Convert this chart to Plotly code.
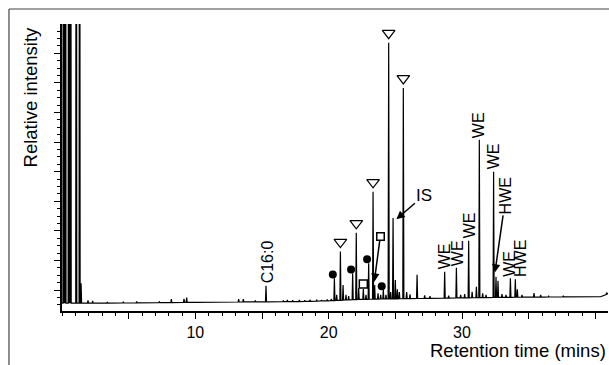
import numpy as np
import plotly.graph_objects as go

# ---------------- data (retention time in min, relative intensity) ----------------
peak_time = [0.11, 0.18, 0.26, 0.50, 0.58, 0.65, 1.07, 1.32, 1.43,
             1.95, 2.3, 3.4, 4.6, 5.6, 7.3, 8.2, 9.15, 9.35, 10.6, 11.6, 12.4,
             13.25, 13.6, 14.5, 15.3, 16.6, 16.9, 17.3, 17.8, 18.2, 18.6, 19.1,
             19.45, 19.9, 20.2,
             20.43, 20.6, 20.88, 21.08, 21.3, 21.5, 21.8, 22.07, 22.25, 22.6, 22.8,
             23.0, 23.33, 23.45, 23.7, 23.9, 24.1, 24.3, 24.5, 24.65, 24.83, 25.0,
             25.15, 25.3, 25.6, 25.85, 26.1, 26.63, 27.2, 27.6, 28.7, 29.0, 29.58,
             29.9, 30.2, 30.5, 30.76, 31.08, 31.3, 31.55, 31.8, 32.37, 32.55, 32.7,
             33.0, 33.3, 33.63, 34.0, 34.15, 34.5, 35.4, 35.9, 36.5, 37.6, 38.5,
             39.7, 40.85]
peak_height = [300, 300, 300, 300, 300, 300, 300, 300, 7.1,
               1.0, 0.8, 0.4, 0.5, 0.6, 0.5, 1.5, 1.6, 2.0, 0.4, 0.5, 0.5,
               1.5, 1.5, 1.0, 6.2, 1.0, 1.2, 1.1, 1.2, 1.0, 1.2, 1.2,
               1.0, 1.3, 1.5,
               8.9, 3.0, 18.5, 6.5, 3.0, 2.5, 10.7, 25.2, 5.4, 5.1, 3.0,
               14.3, 39.9, 6.5, 3.5, 3.0, 4.7, 3.0, 93.3, 4.0, 30.5, 8.3,
               5.0, 4.0, 77.1, 4.0, 3.2, 10.2, 2.8, 2.5, 11.3, 2.7, 12.7,
               3.0, 3.3, 22.4, 4.1, 5.9, 58.5, 3.5, 3.0, 47.1, 9.5, 8.0,
               3.3, 3.0, 8.9, 8.6, 5.0, 3.0, 3.6, 3.0, 2.5, 2.7, 2.3,
               2.4, 3.8]
base_time = [0, 3, 10, 18, 20.3, 22.0, 24.0, 26.9, 28.4, 33.2, 36.2, 40.4, 41]
base_level = [0, 0, 0.3, 0.6, 0.9, 1.3, 1.5, 1.7, 1.8, 2.1, 2.2, 2.3, 3.5]

triangle_peaks = [20.88, 22.07, 23.33, 24.5, 25.6]
circle_peaks = [20.43, 21.8, 23.0, 24.1]
square_peak = 22.6
square_arrow_peak = 23.45
is_peak = 24.83
hwe_arrow_peak = 32.55
label_names = ["C16:0", "WE", "WE", "WE", "WE", "WE", "WE", "HWE"]
label_peaks = [15.3, 28.7, 29.58, 30.5, 31.3, 32.37, 33.63, 34.0]
label_xshift = [1, 0, 1, 1, 0, 0, -1, 5]

x_tick_vals = [5, 10, 15, 20, 25, 30, 35, 40]
x_tick_text = ["", "10", "", "20", "", "30", "", ""]

# ---------------- build chromatogram trace ----------------
H = dict(zip(peak_time, peak_height))
W = 0.04
pts = list(zip(base_time, base_level))
for t, h in zip(peak_time, peak_height):
    pts.append((t - W, float(np.interp(t - W, base_time, base_level))))
    pts.append((t, h))
    pts.append((t + W, float(np.interp(t + W, base_time, base_level))))
pts.sort(key=lambda p: p[0])
xs = [p[0] for p in pts]
ys = [p[1] for p in pts]

FONT = "Liberation Sans, Arial, sans-serif"
fig = go.Figure()
fig.add_trace(go.Scatter(x=xs, y=ys, mode="lines", line=dict(color="black", width=1.2),
                         hoverinfo="skip", showlegend=False))
fig.add_trace(go.Scatter(x=triangle_peaks, y=[H[t] + 3.4 for t in triangle_peaks], mode="markers",
                         marker=dict(symbol="triangle-down-open", size=11, color="black",
                                     line=dict(width=1.2, color="black")),
                         showlegend=False, hoverinfo="skip"))
fig.add_trace(go.Scatter(x=[t - 0.12 for t in circle_peaks], y=[H[t] + 1.4 for t in circle_peaks],
                         mode="markers", marker=dict(symbol="circle", size=8, color="black"),
                         showlegend=False, hoverinfo="skip"))
fig.add_trace(go.Scatter(x=[square_peak], y=[H[square_peak] + 1.8], mode="markers",
                         marker=dict(symbol="square-open", size=8, color="black",
                                     line=dict(width=1.5, color="black")),
                         showlegend=False, hoverinfo="skip"))

annotations = []
for name, t, dx in zip(label_names, label_peaks, label_xshift):
    annotations.append(dict(x=t, y=H[t], text=name, textangle=-90, showarrow=False,
                            xanchor="center", yanchor="bottom", xshift=dx,
                            font=dict(family=FONT, size=16, color="black")))
# square with arrow
annotations.append(dict(x=square_arrow_peak - 0.03, y=H[square_arrow_peak] + 1.2, text="",
                        width=6, height=6, bordercolor="black", borderwidth=1.5, borderpad=0,
                        showarrow=True, ax=6, ay=-45, arrowhead=2, arrowsize=1.1,
                        arrowwidth=1.5, arrowcolor="black"))
# IS
annotations.append(dict(x=is_peak + 0.25, y=H[is_peak] - 0.4, text="IS",
                        font=dict(family=FONT, size=17, color="black"),
                        showarrow=True, ax=28, ay=-24, arrowhead=2, arrowsize=1.1,
                        arrowwidth=1.5, arrowcolor="black"))
# HWE with arrow
annotations.append(dict(x=hwe_arrow_peak - 0.08, y=H[hwe_arrow_peak] + 1.5, text="HWE", textangle=-90,
                        font=dict(family=FONT, size=16, color="black"),
                        showarrow=True, ax=11, ay=-77, arrowhead=2, arrowsize=1.1,
                        arrowwidth=1.5, arrowcolor="black"))
# axis titles
annotations.append(dict(xref="paper", yref="paper", x=-0.0586, y=0.744, text="Relative intensity",
                        textangle=-90, showarrow=False, xanchor="center", yanchor="middle",
                        font=dict(family=FONT, size=18.5, color="black")))
annotations.append(dict(xref="paper", yref="paper", x=1.0, y=-0.136, text="Retention time (mins)",
                        showarrow=False, xanchor="right", yanchor="middle",
                        font=dict(family=FONT, size=18.5, color="black")))

shapes = [
    dict(type="line", xref="paper", yref="paper", x0=-0.0971, x1=1.01, y0=1.0523, y1=1.0523,
         line=dict(color="#444", width=1.2)),
    dict(type="line", xref="paper", yref="paper", x0=-0.0971, x1=-0.0971, y0=1.0523, y1=-0.2,
         line=dict(color="#444", width=1.2)),
]

fig.update_layout(
    width=609, height=365, margin=dict(l=62, r=1, t=24, b=54),
    paper_bgcolor="white", plot_bgcolor="white",
    annotations=annotations, shapes=shapes, showlegend=False,
    xaxis=dict(range=[0, 40.95], showline=True, linecolor="black", linewidth=1.5,
               showgrid=False, zeroline=False, ticks="outside", ticklen=6, tickwidth=1,
               tickcolor="black", tickmode="array", tickvals=x_tick_vals, ticktext=x_tick_text,
               tickfont=dict(family=FONT, size=16, color="black"),
               minor=dict(dtick=1, tick0=0, ticks="outside", ticklen=3, tickwidth=1,
                          tickcolor="black", showgrid=False)),
    yaxis=dict(range=[-2.8, 100], showline=True, linecolor="black", linewidth=1.5,
               showgrid=False, zeroline=False, ticks="outside", ticklen=6, tickwidth=1,
               tickcolor="black", tickmode="linear", tick0=4.7, dtick=10.6, showticklabels=False,
               minor=dict(tickmode="linear", dtick=2.65, tick0=4.7, ticks="outside", ticklen=3.5,
                          tickwidth=1, tickcolor="black", showgrid=False)),
)
fig.write_html("out.html")
